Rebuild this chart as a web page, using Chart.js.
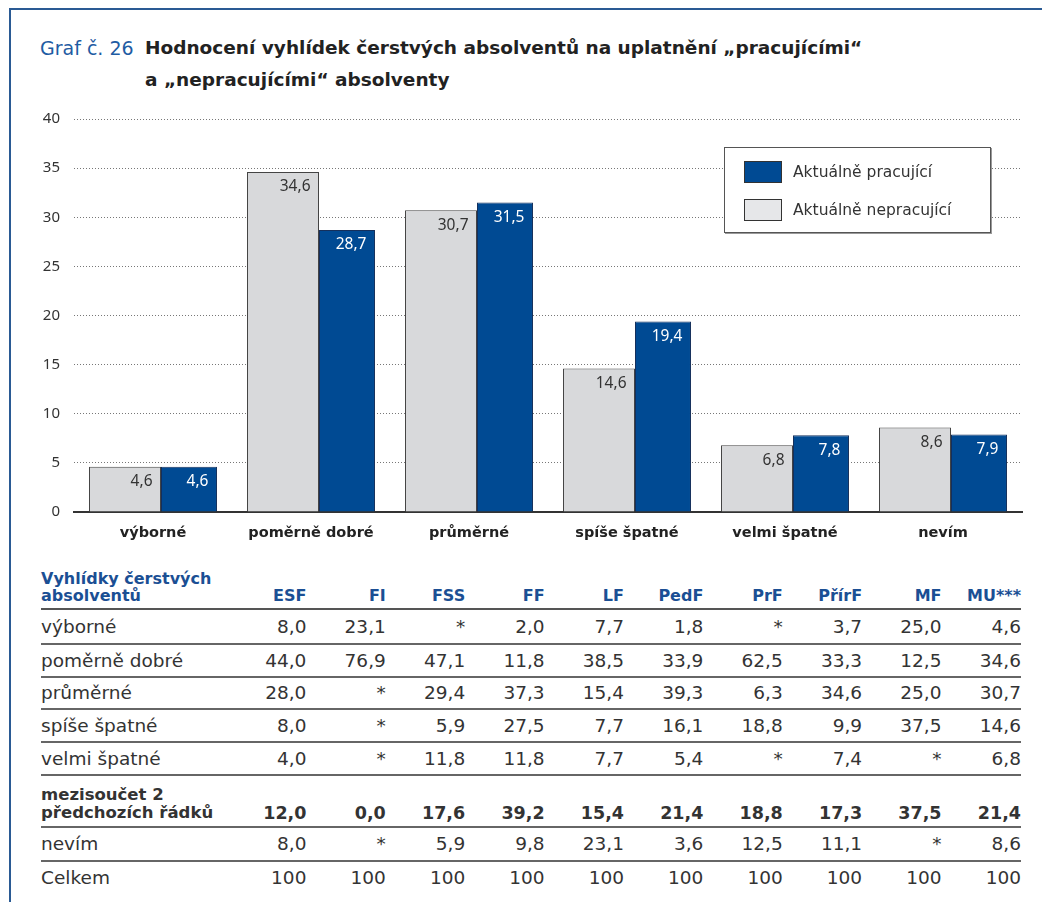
<!DOCTYPE html>
<html lang="cs">
<head>
<meta charset="utf-8">
<script src="https://cdn.jsdelivr.net/npm/chart.js@4"></script>
<style>
  html, body { margin: 0; padding: 0; background: #fff; }
  body { width: 1042px; height: 902px; position: relative; overflow: hidden; font-family: "DejaVu Sans", sans-serif; color: #333; }
  .frame-top { position: absolute; left: 9px; top: 8px; width: 1033px; height: 2px; background: #2a5a94; }
  .frame-left { position: absolute; left: 9px; top: 8px; width: 2px; height: 894px; background: #2a5a94; }
  .title { position: absolute; left: 40px; top: 32px; line-height: 32px; }
  .title .num { position: absolute; left: 0; top: 0; font-size: 19px; color: #1f5ca3; white-space: nowrap; }
  .title .txt { position: absolute; left: 105px; top: 0; width: 850px; font-size: 18.5px; font-weight: bold; color: #222; white-space: nowrap; }
  #chartBox { position: absolute; left: 0; top: 0; width: 1042px; height: 552px; }
  .legend { position: absolute; left: 724px; top: 147px; width: 265px; height: 84px; border: 1px solid #555; background: #fff; box-shadow: 1px 1px 0 #999; }
  .legend .item { position: absolute; left: 19px; height: 22px; font-size: 15.5px; line-height: 22px; white-space: nowrap; color: #333; }
  .legend .sw { display: inline-block; width: 36px; height: 20px; border: 1px solid #333; vertical-align: top; margin-right: 11px; }
  table { position: absolute; left: 41px; top: 562px; border-collapse: collapse; table-layout: fixed; width: 980px; font-size: 18.5px; color: #333; }
  td, th { padding: 0; text-align: right; white-space: nowrap; }
  td:first-child, th:first-child { text-align: left; }
  thead th { color: #1b4f94; font-weight: bold; font-size: 16px; vertical-align: bottom; padding-bottom: 4px; line-height: 17px; height: 42px; border-bottom: 2px solid #555; }
  tbody td { border-bottom: 2px solid #666; line-height: 20px; }
  tbody tr.sub td { font-weight: bold; font-size: 17.5px; vertical-align: bottom; padding-bottom: 4px; line-height: 18px; }
  tbody tr.sub td:first-child { font-size: 16.5px; }
  tbody tr:last-child td { border-bottom: none; }
</style>
</head>
<body>
<div class="frame-top"></div>
<div class="frame-left"></div>
<div class="title">
  <span class="num">Graf č. 26</span>
  <div class="txt">Hodnocení vyhlídek čerstvých absolventů na uplatnění „pracujícími“<br>a „nepracujícími“ absolventy</div>
</div>
<div id="chartBox"><canvas id="c"></canvas></div>
<div class="legend" id="legend"></div>
<table id="tbl"></table>
<script>
// ---- Chart data ----
const categories = ['výborné', 'poměrně dobré', 'průměrné', 'spíše špatné', 'velmi špatné', 'nevím'];
const nepracujici = [4.6, 34.6, 30.7, 14.6, 6.8, 8.6];
const pracujici = [4.6, 28.7, 31.5, 19.4, 7.8, 7.9];
const seriesNames = ['Aktuálně pracující', 'Aktuálně nepracující'];
const yTicks = [0, 5, 10, 15, 20, 25, 30, 35, 40];

// ---- Table data ----
const tableTitle = ['Vyhlídky čerstvých', 'absolventů'];
const faculties = ['ESF', 'FI', 'FSS', 'FF', 'LF', 'PedF', 'PrF', 'PřírF', 'MF', 'MU***'];
const rowLabels = ['výborné', 'poměrně dobré', 'průměrné', 'spíše špatné', 'velmi špatné', 'mezisoučet 2|předchozích řádků', 'nevím', 'Celkem'];
const rowVyborne = ['8,0', '23,1', '*', '2,0', '7,7', '1,8', '*', '3,7', '25,0', '4,6'];
const rowPomerneDobre = ['44,0', '76,9', '47,1', '11,8', '38,5', '33,9', '62,5', '33,3', '12,5', '34,6'];
const rowPrumerne = ['28,0', '*', '29,4', '37,3', '15,4', '39,3', '6,3', '34,6', '25,0', '30,7'];
const rowSpiseSpatne = ['8,0', '*', '5,9', '27,5', '7,7', '16,1', '18,8', '9,9', '37,5', '14,6'];
const rowVelmiSpatne = ['4,0', '*', '11,8', '11,8', '7,7', '5,4', '*', '7,4', '*', '6,8'];
const rowMezisoucet = ['12,0', '0,0', '17,6', '39,2', '15,4', '21,4', '18,8', '17,3', '37,5', '21,4'];
const rowNevim = ['8,0', '*', '5,9', '9,8', '23,1', '3,6', '12,5', '11,1', '*', '8,6'];
const rowCelkem = ['100', '100', '100', '100', '100', '100', '100', '100', '100', '100'];
const tableRows = [rowVyborne, rowPomerneDobre, rowPrumerne, rowSpiseSpatne, rowVelmiSpatne, rowMezisoucet, rowNevim, rowCelkem];
const rowHeights = [33, 31, 30, 31, 31, 46, 32, 32];

const BLUE = '#004a93';
const GREY = '#d8d9db';

// ---- Legend (HTML) ----
const legendColors = [BLUE, '#e6e7e9'];
const legend = document.getElementById('legend');
seriesNames.forEach((n, i) => {
  const d = document.createElement('div');
  d.className = 'item';
  d.style.top = (13 + i * 38) + 'px';
  d.innerHTML = '<span class="sw" style="background:' + legendColors[i] + '"></span>' + n;
  legend.appendChild(d);
});

// ---- Table ----
const tbl = document.getElementById('tbl');
let html = '<colgroup><col style="width:186px">' + faculties.map(() => '<col style="width:79.4px">').join('') + '</colgroup>';
html += '<thead><tr><th>' + tableTitle.join('<br>') + '</th>' + faculties.map(f => '<th>' + f + '</th>').join('') + '</tr></thead><tbody>';
tableRows.forEach((r, i) => {
  const cls = i === 5 ? ' class="sub"' : '';
  const st = ' style="height:' + rowHeights[i] + 'px"';
  html += '<tr' + cls + '><td' + st + '>' + rowLabels[i].split('|').join('<br>') + '</td>' + r.map(v => '<td' + st + '>' + v + '</td>').join('') + '</tr>';
});
html += '</tbody>';
tbl.innerHTML = html;

// ---- Chart ----
const fmt = v => v.toFixed(1).replace('.', ',');

const groupShift = {
  id: 'groupShift',
  afterDatasetsUpdate(chart) {
    const m0 = chart.getDatasetMeta(0), m1 = chart.getDatasetMeta(1);
    m0.data.forEach((b0, i) => {
      const b1 = m1.data[i];
      const s = (b0.width - b1.width) / 4;
      b0.x += s; b1.x += s;
    });
  }
};

const barLabels = {
  id: 'barLabels',
  afterDatasetsDraw(chart) {
    const ctx = chart.ctx;
    ctx.save();
    ctx.font = '15.5px "Noto Sans"';
    ctx.textAlign = 'right';
    ctx.textBaseline = 'middle';
    chart.data.datasets.forEach((ds, di) => {
      const meta = chart.getDatasetMeta(di);
      meta.data.forEach((bar, i) => {
        ctx.fillStyle = di === 0 ? '#333' : '#fff';
        ctx.fillText(fmt(ds.data[i]), bar.x + bar.width / 2 - 8.5, bar.y + 15);
      });
    });
    ctx.restore();
  }
};

new Chart(document.getElementById('c'), {
  type: 'bar',
  data: {
    labels: categories,
    datasets: [
      { label: seriesNames[1], data: nepracujici, backgroundColor: GREY, borderColor: '#444', borderWidth: 1, barPercentage: 1.125, categoryPercentage: 0.81 },
      { label: seriesNames[0], data: pracujici, backgroundColor: BLUE, borderColor: '#15305c', borderWidth: 1, barPercentage: 0.875, categoryPercentage: 0.81 }
    ]
  },
  options: {
    responsive: true,
    maintainAspectRatio: false,
    animation: false,
    layout: { padding: { top: 119, right: 20, left: 0, bottom: 0 } },
    plugins: { legend: { display: false }, tooltip: { enabled: false } },
    scales: {
      x: {
        grid: { display: false, drawTicks: false },
        border: { display: true, color: '#333', width: 2 },
        ticks: { color: '#222', font: { family: 'DejaVu Sans', size: 14.5, weight: 'bold' }, padding: 13, maxRotation: 0 },
        afterFit(s) { s.height = 40; }
      },
      y: {
        min: 0, max: 40,
        afterBuildTicks(s) { s.ticks = yTicks.map(v => ({ value: v })); },
        grid: { drawTicks: false, color: c => (c.tick && c.tick.value === 0) ? 'rgba(0,0,0,0)' : '#777', lineWidth: 1 },
        border: { display: false, dash: [1, 2] },
        ticks: { color: '#333', font: { family: 'Noto Sans', size: 15 }, padding: 14 },
        afterFit(s) { s.width = 74; }
      }
    }
  },
  plugins: [groupShift, barLabels]
});
</script>
</body>
</html>
